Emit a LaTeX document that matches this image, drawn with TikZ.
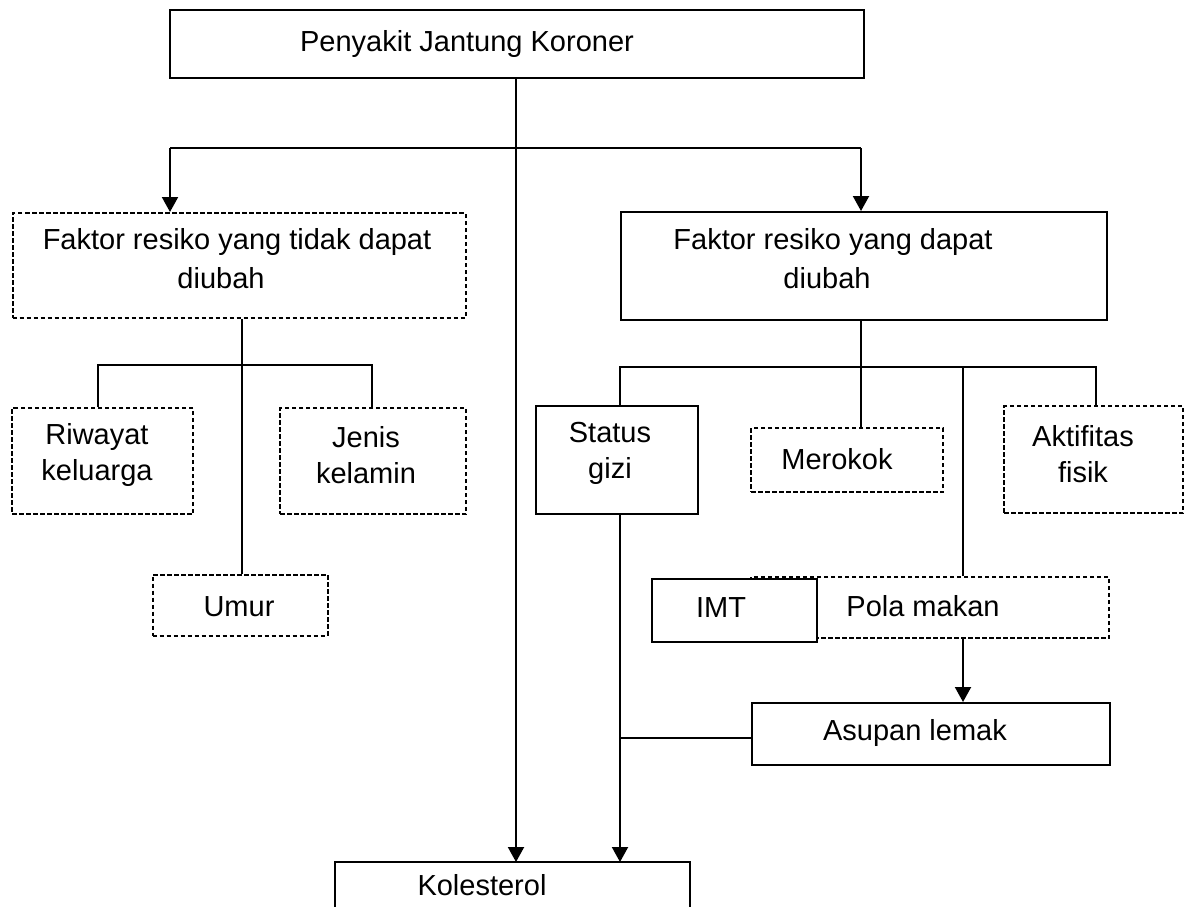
\documentclass[tikz,border=0pt]{standalone}
\usepackage{fontspec}
\setmainfont{Liberation Sans}
\usetikzlibrary{arrows.meta,calc}
\begin{document}
\begin{tikzpicture}[x=1pt,y=-1pt,
  solidbox/.style={draw,line width=2pt,fill=white,inner sep=0pt},
  dashbox/.style={draw,line width=2pt,dash pattern=on 4.5pt off 2.5pt,fill=white,inner sep=0pt},
  txt/.style={font=\fontsize{29}{36}\selectfont,align=center,inner sep=0pt},
  ln/.style={line width=2pt},
  arr/.style={line width=2pt,-{Triangle[width=16pt,length=15pt]}}]
\useasboundingbox (0,0) rectangle (1192,906);
\clip (0,0) rectangle (1192,906);
% boxes
\node[solidbox,minimum width=694pt,minimum height=68pt] (pjk) at (517,44) {};
\node[txt] (pjkt) at (467,44) {Penyakit Jantung Koroner};
\node[dashbox,minimum width=453pt,minimum height=105pt] (fl) at (239,265.5) {};
\node[txt] (flt1) at (237,242) {Faktor resiko yang tidak dapat};
\node[txt] (flt2) at (221,278) {diubah};
\node[solidbox,minimum width=486pt,minimum height=108pt] (fr) at (864,266) {};
\node[txt] (frt1) at (833,242) {Faktor resiko yang dapat};
\node[txt] (frt2) at (827,278) {diubah};
\node[dashbox,minimum width=181pt,minimum height=106pt] (rw) at (102.5,461) {};
\node[txt] (rwt) at (97,455) {Riwayat\\keluarga};
\node[dashbox,minimum width=186pt,minimum height=106pt] (jk) at (373,461) {};
\node[txt] (jkt) at (366,455) {Jenis\\kelamin};
\node[dashbox,minimum width=175pt,minimum height=61pt] (um) at (240,605) {};
\node[txt] (umt) at (239,607) {Umur};
\node[solidbox,minimum width=162pt,minimum height=108pt] (sg) at (617,460) {};
\node[txt] (sgt) at (610,453) {Status\\gizi};
\node[dashbox,minimum width=192pt,minimum height=64pt] (mr) at (847,460) {};
\node[txt] (mrt) at (837,459) {Merokok};
\node[dashbox,minimum width=179pt,minimum height=107pt] (af) at (1093.5,459.5) {};
\node[txt] (aft) at (1083,454) {Aktifitas\\fisik};
\node[dashbox,minimum width=358pt,minimum height=61pt] (pm) at (930,607.5) {};
\node[solidbox,minimum width=165pt,minimum height=63pt] (imt) at (734.5,610.5) {};
\node[txt] (imtt) at (721,608) {IMT};
\node[txt] (pmt) at (923,606) {Pola makan};
\node[solidbox,minimum width=358pt,minimum height=62pt] (al) at (931,734) {};
\node[txt] (alt) at (915,733) {Asupan lemak};
\draw[ln,fill=white] (335,862) rectangle (690,940);
\coordinate (kol) at (512,862);
\node[txt] (kolt) at (482,885) {Kolesterol};
% connectors
\coordinate (c0) at (516,862);
\draw[arr] (516,78) -- (c0);
\coordinate (h1) at (170,148);
\coordinate (h2) at (861,148);
\draw[ln] (h1) -- (h2);
\draw[arr] (h1) -- (h1 |- fl.north);
\draw[arr] (h2) -- (h2 |- fr.north);
% left subtree
\coordinate (l0) at (242,365);
\coordinate (l1) at (98,365);
\coordinate (l2) at (372,365);
\draw[ln] (l0 |- fl.south) -- (l0 |- um.north);
\draw[ln] (l1 |- rw.north) -- (l1) -- (l2) -- (l2 |- jk.north);
% right subtree
\coordinate (r0) at (861,367);
\coordinate (r1) at (620,367);
\coordinate (r3) at (963,367);
\coordinate (r4) at (1096,367);
\draw[ln] (r0 |- fr.south) -- (r0) -- (r0 |- mr.north);
\draw[ln] (r1 |- sg.north) -- (r1) -- (r4) -- (r4 |- af.north);
\draw[ln] (r3) -- (r3 |- pm.north);
\coordinate (s1) at (620,862);
\draw[arr] (r1 |- sg.south) -- (s1);
\coordinate (s2) at (620,738);
\draw[ln] (s2) -- (s2 -| al.west);
\draw[arr] (r3 |- pm.south) -- (r3 |- al.north);
\end{tikzpicture}
\end{document}
